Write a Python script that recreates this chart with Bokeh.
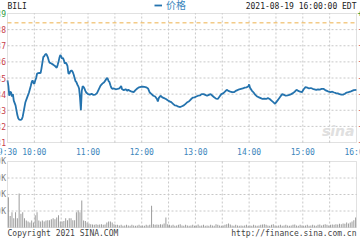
from bokeh.plotting import figure
from bokeh.models import (ColumnDataSource, Label, Legend, LegendItem, Range1d, BoxAnnotation)
from bokeh.embed import file_html
from bokeh.resources import INLINE
from bokeh.core.properties import value, field

# ---------------- data ----------------
symbol = "BILI"
stamp = "2021-08-19 16:00:00 EDT"
legend_label = "价格"
copyright_text = "Copyright 2021 SINA.COM"
url_text = "http://finance.sina.com.cn"
prev_close = 88.42

# minutes after 9:30
minutes = [0, 1, 2, 3, 4, 5, 6, 7, 9, 11, 12, 13, 15, 16, 17, 18, 20, 22, 24, 26, 27, 28, 29, 30,
           31, 32, 33, 34, 36, 37, 38, 39, 40, 41, 42, 43, 44, 45, 46, 47, 49, 51, 53, 55, 56, 57,
           58, 59, 60, 61, 62, 63, 64, 65, 66, 67, 68, 69, 70, 71, 72, 73, 74, 75, 76, 77, 78, 79,
           80, 81, 82, 83, 84, 85, 86, 87, 88, 90, 92, 94, 96, 98, 100, 102, 104, 106, 108, 110,
           111, 112, 113, 114, 115, 116, 117, 119, 121, 123, 125, 127, 128, 130, 132, 134, 135,
           137, 139, 141, 143, 145, 147, 149, 151, 153, 155, 157, 159, 161, 163, 165, 167, 168,
           169, 171, 173, 175, 177, 179, 181, 183, 185, 187, 189, 191, 193, 195, 197, 199, 201,
           203, 205, 207, 209, 211, 213, 215, 217, 219, 221, 223, 225, 227, 229, 231, 233, 235,
           237, 239, 241, 243, 245, 247, 249, 251, 253, 255, 257, 259, 261, 263, 265, 267, 269,
           270, 271, 273, 275, 277, 279, 281, 283, 285, 287, 289, 291, 293, 295, 297, 299, 301,
           303, 305, 307, 309, 311, 313, 315, 317, 319, 321, 323, 325, 327, 329, 331, 333, 335,
           337, 339, 341, 343, 345, 347, 349, 351, 353, 355, 357, 359, 361, 363, 365, 367, 369,
           371, 373, 375, 377, 379, 381, 383, 385, 387, 390]
prices = [84.85, 84.5, 83.9, 84.15, 84.1, 83.85, 84.0, 83.6, 83.3, 82.7, 82.5, 82.42, 82.4, 82.45,
          82.6, 82.9, 83.5, 83.8, 84.1, 84.5, 84.74, 84.85, 84.7, 84.64, 84.84, 85.0, 85.26, 85.3,
          85.32, 85.3, 85.6, 85.95, 86.3, 86.35, 86.45, 86.5, 86.42, 86.3, 86.1, 85.95, 85.9,
          85.83, 85.75, 85.63, 85.8, 86.0, 86.25, 86.42, 86.35, 86.2, 86.25, 86.1, 85.9, 85.95,
          85.88, 85.75, 85.3, 85.26, 85.4, 85.46, 85.45, 85.36, 85.2, 85.0, 84.8, 84.74, 84.6,
          84.5, 84.35, 83.8, 83.0, 84.2, 84.5, 84.45, 84.35, 84.2, 84.1, 84.0, 83.97, 84.02,
          83.95, 83.97, 84.06, 84.3, 84.53, 84.65, 84.74, 84.9, 85.0, 84.95, 84.8, 84.74, 84.55,
          84.4, 84.33, 84.35, 84.3, 84.32, 84.35, 84.5, 84.3, 84.25, 84.3, 84.2, 84.28, 84.2,
          84.15, 84.12, 84.25, 84.35, 84.42, 84.45, 84.47, 84.45, 84.42, 84.35, 84.1, 84.0, 83.9,
          83.85, 83.7, 83.54, 83.75, 83.9, 83.8, 83.75, 83.7, 83.62, 83.55, 83.5, 83.4, 83.3,
          83.28, 83.22, 83.2, 83.25, 83.3, 83.4, 83.5, 83.56, 83.68, 83.78, 83.8, 83.85, 83.9,
          83.92, 84.0, 84.0, 83.95, 83.9, 83.95, 84.0, 83.9, 83.8, 83.72, 83.7, 83.85, 84.0,
          84.05, 84.15, 84.27, 84.2, 84.15, 84.12, 84.12, 84.2, 84.25, 84.3, 84.33, 84.35, 84.4,
          84.42, 84.47, 84.6, 84.4, 84.22, 84.1, 83.95, 83.85, 83.8, 83.75, 83.7, 83.72, 83.7,
          83.75, 83.7, 83.6, 83.5, 83.4, 83.55, 83.7, 83.85, 84.0, 83.95, 83.9, 83.92, 83.95,
          84.0, 84.06, 84.15, 84.27, 84.2, 84.15, 84.12, 84.3, 84.43, 84.4, 84.35, 84.38, 84.33,
          84.3, 84.27, 84.3, 84.28, 84.32, 84.33, 84.25, 84.2, 84.15, 84.12, 84.15, 84.1, 84.06,
          84.05, 84.0, 83.97, 83.97, 84.02, 84.1, 84.12, 84.15, 84.2, 84.25, 84.27]

# volume, one bar per two minutes, thousands of shares
vol_minutes = list(range(1, 390, 2))
volumes_k = [92, 35, 46, 28, 46, 28, 103, 42, 46, 28, 21, 18, 15, 21, 15, 37, 46, 21, 18, 21,
             18, 21, 22, 22, 25, 28, 25, 30, 37, 18, 18, 20, 28, 22, 28, 28, 22, 22, 46, 52,
             46, 82, 21, 20, 15, 12,
             10, 9, 8, 10, 8, 9, 10, 8, 9,
             15, 18, 18, 15, 10, 8,
             8, 6, 8, 5, 6, 8, 6, 5, 8, 6, 5, 6, 8, 5, 6, 5, 8, 6,
             8, 66, 10, 8, 9, 8, 10, 9, 12, 30, 10,
             8, 6, 8, 5, 6, 8, 10, 6, 5, 8, 6,
             5, 6, 8, 5, 6, 9, 5, 6, 8, 5,
             6, 5, 8, 6, 5, 10, 8, 6, 5, 6,
             8, 10, 12, 9, 6, 5, 8, 6, 5, 6,
             5, 6, 8, 5, 6, 5, 8, 6, 5, 6,
             8, 9, 10, 8, 6, 5, 8, 10, 6, 5,
             6, 8, 5, 6, 8, 6, 5, 6, 8, 9,
             6, 5, 8, 6, 5, 6, 8, 5, 6, 8,
             6, 5, 8, 9, 6, 8, 10, 8, 6, 8,
             9, 8, 10, 9, 11, 10, 12, 11, 15, 12,
             15, 18, 22, 30]

price_ticks = [81, 82, 83, 84, 85, 86, 87, 88, 89]
time_ticks = [0, 30, 90, 150, 210, 270, 330, 390]
time_labels = ["9:30", "10:00", "11:00", "12:00", "13:00", "14:00", "15:00", "16:00"]
half_hours = [30, 60, 90, 120, 150, 180, 210, 240, 270, 300, 330, 360]
vol_ticks = [50, 100, 150, 200]
vol_labels = ["50K", "100K", "150K", "200K"]

# ---------------- layout (pixels) ----------------
W, H = 360, 240
PX0, PX1 = 7, 356          # left / right edge of both panels
PY0, PY1 = 13, 142         # top / bottom of price panel
VY0, VY1 = 161, 227        # top / bottom of volume panel

t0, t1 = time_ticks[0], time_ticks[-1]
p0, p1 = price_ticks[0], price_ticks[-1]
v0, v1 = 0, vol_ticks[-1]

kx = (t1 - t0) / (PX1 - PX0)
x_range = Range1d(t0 - PX0 * kx, t1 + (W - PX1) * kx)
ky = (p1 - p0) / (PY1 - PY0)
y_range = Range1d(p1 - (H - PY0) * ky, p1 + PY0 * ky)
kv = (v1 - v0) / (VY1 - VY0)
vol_range = Range1d(v1 - (H - VY0) * kv, v1 + VY0 * kv)

# ---------------- style ----------------
MONO = "DejaVu Sans Mono"
LINE = "#2473AE"
GRID = "#C8C8C8"
BORDER = "#9A9A9A"
UP = "#2E9A3A"
DOWN = "#C8404A"
TIMEC = "#3C86BC"

p = figure(width=W, height=H, x_range=x_range, y_range=y_range,
           x_axis_location=None, y_axis_location=None,
           output_backend="svg", toolbar_location=None, min_border=0)
p.extra_y_ranges = {"vol": vol_range}
p.grid.visible = False
p.outline_line_color = None
p.background_fill_color = "white"
p.border_fill_color = "white"

# grids (dotted) for the price panel
p.segment(x0=[t0] * 7, x1=[t1] * 7, y0=price_ticks[1:-1], y1=price_ticks[1:-1],
          line_color=GRID, line_dash="2 2", line_width=1, level="underlay")
p.segment(x0=half_hours, x1=half_hours, y0=[p0] * len(half_hours), y1=[p1] * len(half_hours),
          line_color=GRID, line_dash="2 2", line_width=1, level="underlay")
# grids for the volume panel
p.segment(x0=[t0] * 3, x1=[t1] * 3, y0=vol_ticks[:-1], y1=vol_ticks[:-1],
          line_color=GRID, line_dash="2 2", line_width=1, level="underlay", y_range_name="vol")
p.segment(x0=half_hours, x1=half_hours, y0=[v0] * len(half_hours), y1=[v1] * len(half_hours),
          line_color=GRID, line_dash="2 2", line_width=1, level="underlay", y_range_name="vol")

# previous close
p.line(x=[t0, t1], y=[prev_close, prev_close], line_color="#EDB04A", line_dash="4 3",
       line_width=1)

# price line
r = p.line(minutes, prices, line_color=LINE, line_width=1.8)

# volume bars
p.vbar(x=vol_minutes, top=volumes_k, bottom=0, width=1.12, fill_color="#9C9C9C",
       line_color=None, y_range_name="vol")

# panel borders
p.add_layout(BoxAnnotation(left=t0, right=t1, bottom=p0, top=p1, fill_alpha=0,
                           line_color=BORDER, line_width=1))
p.add_layout(BoxAnnotation(left=t0, right=t1, bottom=v0, top=v1, fill_alpha=0,
                           line_color=BORDER, line_width=1, y_range_name="vol"))

# price labels, left and right
cols = [UP if v >= prev_close else DOWN for v in price_ticks]
left_src = ColumnDataSource(dict(x=[t0] * len(price_ticks), y=price_ticks,
                                 text=[str(v) for v in price_ticks], color=cols))
p.text(x="x", y="y", text="text", source=left_src, x_offset=-1.5,
       text_align="right", text_baseline="middle", text_font=value(MONO),
       text_font_size="8px", text_color=field("color"))
right_src = ColumnDataSource(dict(
    x=[t1] * len(price_ticks), y=price_ticks,
    text=["%+.2f%%" % ((v - prev_close) / prev_close * 100) for v in price_ticks],
    color=cols))
p.text(x="x", y="y", text="text", source=right_src, x_offset=1,
       text_align="left", text_baseline="middle", text_font=value(MONO),
       text_font_size="8px", text_color=field("color"))

# time labels
time_src = ColumnDataSource(dict(x=time_ticks, y=[p0] * len(time_ticks), text=time_labels))
p.text(x="x", y="y", text="text", source=time_src, y_offset=5,
       text_align="center", text_baseline="top", text_font=value(MONO),
       text_font_size="8px", text_color=TIMEC)

# volume labels
vol_src = ColumnDataSource(dict(x=[t0] * len(vol_ticks), y=vol_ticks, text=vol_labels))
p.text(x="x", y="y", text="text", source=vol_src, x_offset=-1.5, y_range_name="vol",
       text_align="right", text_baseline="middle", text_font=value(MONO),
       text_font_size="8px", text_color="#808080")

# header / footer texts
p.add_layout(Label(x=PX0, y=H - 6, x_units="screen", y_units="screen", text=symbol,
                   text_font=MONO, text_font_size="8px", text_color="#222222",
                   text_baseline="middle", text_align="left"))
p.add_layout(Label(x=PX1, y=H - 6, x_units="screen", y_units="screen", text=stamp,
                   text_font=MONO, text_font_size="8px", text_color="#222222",
                   text_baseline="middle", text_align="right"))
p.add_layout(Label(x=PX0, y=H - 233, x_units="screen", y_units="screen", text=copyright_text,
                   text_font=MONO, text_font_size="8px", text_color="#444444",
                   text_baseline="middle", text_align="left"))
p.add_layout(Label(x=PX1, y=H - 233, x_units="screen", y_units="screen", text=url_text,
                   text_font=MONO, text_font_size="8px", text_color="#444444",
                   text_baseline="middle", text_align="right"))
p.add_layout(Label(x=PX1 - 2, y=H - PY1 + 4, x_units="screen", y_units="screen", text="sina",
                   text_font="DejaVu Sans", text_font_size="14px",
                   text_font_style="bold italic",
                   text_color="#E0E0E0", text_align="right", text_baseline="bottom"))

legend = Legend(items=[LegendItem(label=legend_label, renderers=[r])],
                location=(154, H - 12), orientation="horizontal",
                border_line_color=None, background_fill_alpha=0,
                padding=0, margin=0, spacing=0,
                glyph_width=8, glyph_height=8, label_standoff=4,
                label_text_font="Noto Sans CJK SC", label_text_font_size="10px",
                label_text_color=TIMEC, label_height=12)
p.add_layout(legend, "center")

open("out.html", "w").write(file_html(p, INLINE))
